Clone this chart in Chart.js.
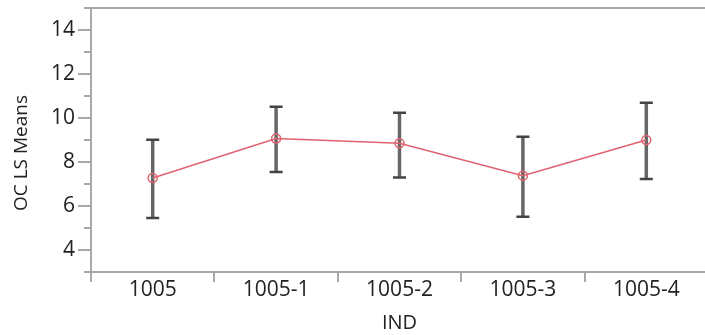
<!DOCTYPE html>
<html>
<head>
<meta charset="utf-8">
<script src="https://cdn.jsdelivr.net/npm/chart.js@4.4.0/dist/chart.umd.min.js"></script>
<style>
  html, body { margin: 0; padding: 0; background: #fff; overflow: hidden; }
  #wrap { width: 714px; height: 335px; }
</style>
</head>
<body>
<div id="wrap"><canvas id="chart" width="714" height="335"></canvas></div>
<script>
const categories = ['1005', '1005-1', '1005-2', '1005-3', '1005-4'];
const lsMeans = [7.27, 9.07, 8.85, 7.38, 9.0];
const upper = [9.01, 10.51, 10.24, 9.15, 10.69];
const lower = [5.45, 7.55, 7.30, 5.51, 7.23];
const yMajorTicks = [4, 6, 8, 10, 12, 14];

const axisGray = '#a8a8a8';
const textColor = '#222';
const fontFamily = '"Open Sans", "Noto Sans", sans-serif';

// error bars, minor y ticks, the top frame line and the y title
const extras = {
    id: 'extras',
    beforeDatasetsDraw(chart) {
        const ctx = chart.ctx;
        const y = chart.scales.y;
        const meta = chart.getDatasetMeta(0);
        ctx.save();
        meta.data.forEach((pt, i) => {
            const yTop = y.getPixelForValue(upper[i]);
            const yBot = y.getPixelForValue(lower[i]);
            ctx.strokeStyle = '#666';
            ctx.lineWidth = 3.5;
            ctx.beginPath();
            ctx.moveTo(pt.x, yTop);
            ctx.lineTo(pt.x, yBot);
            ctx.stroke();
            ctx.strokeStyle = '#444';
            ctx.lineWidth = 2.5;
            ctx.beginPath();
            ctx.moveTo(pt.x - 6.5, yTop);
            ctx.lineTo(pt.x + 6.5, yTop);
            ctx.moveTo(pt.x - 6.5, yBot);
            ctx.lineTo(pt.x + 6.5, yBot);
            ctx.stroke();
        });
        ctx.restore();
    },
    afterDraw(chart) {
        const ctx = chart.ctx;
        const y = chart.scales.y;
        const area = chart.chartArea;
        ctx.save();
        ctx.strokeStyle = axisGray;
        ctx.lineWidth = 2;
        ctx.beginPath();
        for (let v = y.min; v <= y.max; v += 2) {
            const py = Math.round(y.getPixelForValue(v));
            ctx.moveTo(area.left - 7, py);
            ctx.lineTo(area.left, py);
        }
        ctx.moveTo(area.left - 7, area.top);
        ctx.lineTo(chart.width, area.top);
        ctx.moveTo(area.left - 7, area.bottom);
        ctx.lineTo(area.left, area.bottom);
        ctx.stroke();

        ctx.fillStyle = textColor;
        ctx.font = '19px ' + fontFamily;
        ctx.textAlign = 'center';
        ctx.textBaseline = 'middle';
        ctx.translate(22, 153);
        ctx.rotate(-Math.PI / 2);
        ctx.fillText('OC LS Means', 0, 0);
        ctx.restore();
    }
};

new Chart(document.getElementById('chart'), {
    type: 'line',
    data: {
        labels: categories,
        datasets: [{
            data: lsMeans,
            borderColor: '#e0606e',
            borderWidth: 1.5,
            pointStyle: 'circle',
            pointRadius: 4.5,
            pointBorderWidth: 1.5,
            pointBorderColor: '#e0606e',
            pointBackgroundColor: 'rgba(255,255,255,0)',
            tension: 0
        }]
    },
    options: {
        responsive: false,
        animation: false,
        layout: { padding: { top: 8, right: 0, left: 0, bottom: 0 } },
        plugins: { legend: { display: false }, tooltip: { enabled: false } },
        scales: {
            x: {
                offset: true,
                grid: { offset: true, drawOnChartArea: false, color: axisGray, lineWidth: 2, tickLength: 10 },
                border: { color: axisGray, width: 2 },
                ticks: { color: textColor, font: { family: fontFamily, size: 21 }, padding: -5, maxRotation: 0 },
                title: { display: true, text: 'IND', color: textColor, font: { family: fontFamily, size: 20 }, padding: { top: 9, bottom: 0 } },
                afterFit(scale) { scale.height = 63; }
            },
            y: {
                min: 3,
                max: 15,
                afterBuildTicks(scale) {
                    scale.ticks = yMajorTicks.map(v => ({ value: v }));
                },
                grid: { drawOnChartArea: false, color: axisGray, lineWidth: 2, tickLength: 13 },
                border: { color: axisGray, width: 2 },
                ticks: { color: textColor, font: { family: fontFamily, size: 21 }, padding: 3 },
                afterFit(scale) {
                    scale.width = 91;
                    scale.paddingTop = 0;
                    scale.paddingBottom = 0;
                }
            }
        }
    },
    plugins: [extras]
});
</script>
</body>
</html>
